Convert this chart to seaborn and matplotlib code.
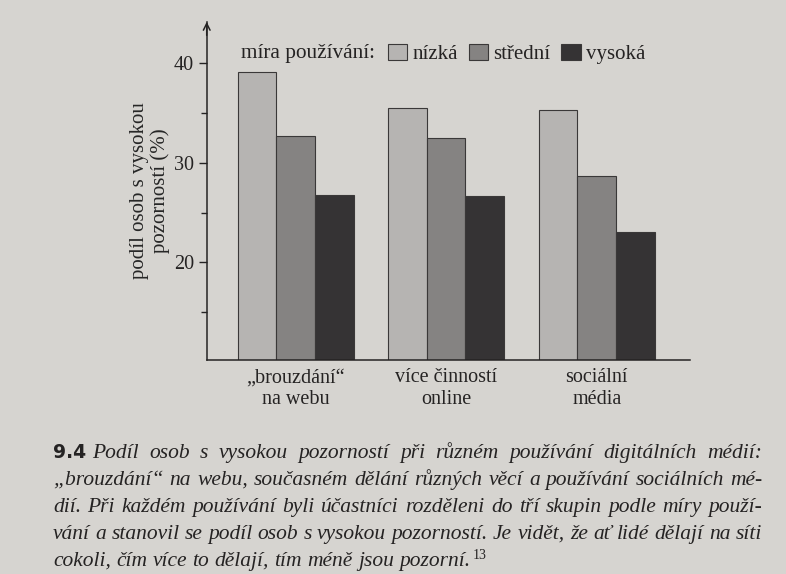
import matplotlib
matplotlib.use("Agg")
import matplotlib.pyplot as plt
import seaborn as sns
import pandas as pd
from matplotlib.ticker import MultipleLocator

# --- data ---
categories = ["„brouzdání“\nna webu", "více činností\nonline", "sociální\nmédia"]
levels = ["nízká", "střední", "vysoká"]
nizka = [39.1, 35.5, 35.3]
stredni = [32.7, 32.5, 28.7]
vysoka = [26.8, 26.7, 23.0]

caption_lines = [
    "Podíl osob s vysokou pozorností při různém používání digitálních médií:",
    "„brouzdání“ na webu, současném dělání různých věcí a používání sociálních mé-",
    "dií. Při každém používání byli účastníci rozděleni do tří skupin podle míry použí-",
    "vání a stanovil se podíl osob s vysokou pozorností. Je vidět, že ať lidé dělají na síti",
    "cokoli, čím více to dělají, tím méně jsou pozorní.",
]

records = []
for lvl, vals in zip(levels, [nizka, stredni, vysoka]):
    for cat, v in zip(categories, vals):
        records.append({"kategorie": cat, "míra": lvl, "podíl": v})
df = pd.DataFrame(records)

paper = "#d6d4d0"
ink = "#252323"
palette = {"nízká": "#b6b4b2", "střední": "#858382", "vysoká": "#353334"}

sns.set_style("ticks")
plt.rcParams["font.family"] = ["Liberation Serif", "DejaVu Serif"]
plt.rcParams["text.color"] = ink
plt.rcParams["axes.edgecolor"] = ink
plt.rcParams["xtick.color"] = ink
plt.rcParams["ytick.color"] = ink

fig = plt.figure(figsize=(7.86, 5.74), dpi=100, facecolor=paper)
ax = fig.add_axes([0.263, 0.373, 0.615, 0.589])
ax.set_facecolor(paper)

sns.barplot(data=df, x="kategorie", y="podíl", hue="míra", order=categories,
            hue_order=levels, palette=palette, width=0.77, saturation=1,
            edgecolor="#3a3838", linewidth=0.8, ax=ax)

ax.set_xlim(-0.59, 2.62)
ax.set_ylim(10.24, 44.1)
ax.yaxis.set_minor_locator(MultipleLocator(5))
ax.set_yticks([20, 30, 40])
ax.tick_params(axis="y", which="major", length=6, width=1, labelsize=14.5, pad=3)
ax.tick_params(axis="y", which="minor", length=4, width=1)
ax.tick_params(axis="x", length=0, labelsize=14.5, pad=6)
ax.set_xlabel("")
ax.set_ylabel("podíl osob s vysokou\npozorností (%)", fontsize=15, labelpad=3,
              linespacing=1.05)
sns.despine(ax=ax)
ax.spines["left"].set_linewidth(1.1)
ax.spines["bottom"].set_linewidth(1.1)

# arrow head on the y axis
ax.annotate("", xy=(0, 1.0), xycoords="axes fraction", xytext=(0, 0.96),
            arrowprops=dict(arrowstyle="->", color=ink, lw=1.1,
                            shrinkA=0, shrinkB=0, mutation_scale=12))

# legend in one row with its title in front
handles, labels = ax.get_legend_handles_labels()
ax.legend(handles, labels, ncol=3, frameon=False, loc="center left",
          bbox_to_anchor=(0.357, 0.905), fontsize=15, handlelength=0.95,
          handleheight=0.85, handletextpad=0.25, columnspacing=0.5,
          borderaxespad=0)
ax.text(0.071, 0.905, "míra používání:", transform=ax.transAxes,
        fontsize=15.3, va="center", ha="left")

# caption under the chart, justified line by line
W, H = fig.bbox.width, fig.bbox.height
left_px, right_px = 53, 762
base_px, step_px = 458, 27
cap_size = 15.5
renderer = fig.canvas.get_renderer()

num = fig.text(left_px / W, 1 - base_px / H, "9.4", fontsize=13.5,
               fontweight="bold", family=["DejaVu Sans"], va="baseline",
               color=ink)
num_end = num.get_window_extent(renderer).x1

probe = fig.text(0, 0, "a a", fontsize=cap_size, style="italic")
probe2 = fig.text(0, 0, "aa", fontsize=cap_size, style="italic")
space_px = probe.get_window_extent(renderer).width - probe2.get_window_extent(renderer).width
probe.remove()
probe2.remove()

last_word = None
for i, line in enumerate(caption_lines):
    y = 1 - (base_px + i * step_px) / H
    words = line.split(" ")
    texts = [fig.text(0, y, w, fontsize=cap_size, style="italic", va="baseline")
             for w in words]
    widths = [t.get_window_extent(renderer).width for t in texts]
    x = num_end + space_px * 1.1 if i == 0 else left_px
    if i < len(caption_lines) - 1:
        gap = (right_px - x - sum(widths)) / (len(words) - 1)
    else:
        gap = space_px
    for t, w in zip(texts, widths):
        t.set_x(x / W)
        x += w + gap
    last_word = texts[-1]

ax.annotate("13", xy=(1, 0.45), xycoords=last_word, xytext=(1.5, 0),
            textcoords="offset points", fontsize=10, va="bottom",
            annotation_clip=False)

fig.savefig("out.png", dpi=100, facecolor=paper)
